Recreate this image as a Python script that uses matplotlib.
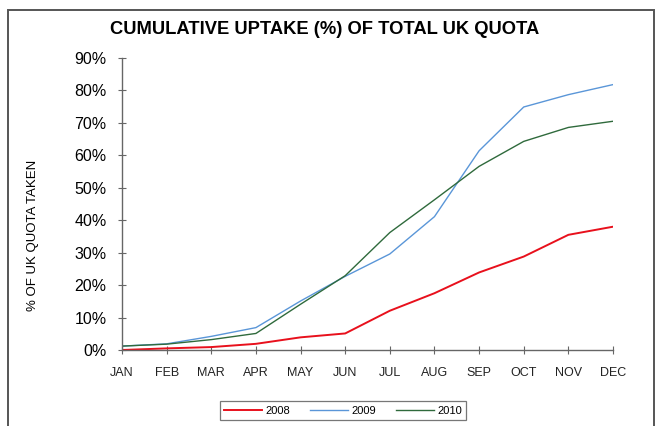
import matplotlib
matplotlib.use("Agg")
import matplotlib.pyplot as plt
from matplotlib.patches import Rectangle
from matplotlib.ticker import FuncFormatter

plt.rcParams['font.family'] = ['Liberation Sans', 'DejaVu Sans']

months = ["JAN", "FEB", "MAR", "APR", "MAY", "JUN", "JUL", "AUG", "SEP", "OCT", "NOV", "DEC"]
series_names = ["2008", "2009", "2010"]
uptake_2008 = [0.0, 0.5, 0.9, 1.9, 3.9, 5.1, 12.1, 17.5, 23.9, 28.8, 35.5, 38.0]
uptake_2009 = [1.2, 1.9, 4.2, 6.9, 15.1, 22.7, 29.6, 41.1, 61.4, 74.9, 78.7, 81.8]
uptake_2010 = [1.2, 1.8, 3.2, 5.1, 14.1, 22.9, 36.2, 46.3, 56.6, 64.3, 68.6, 70.5]
yticks = [0, 10, 20, 30, 40, 50, 60, 70, 80, 90]
colors = ["#e8101c", "#5a96d8", "#2f6a3c"]

fig = plt.figure(figsize=(6.58, 4.26), dpi=100)
fig.patch.set_facecolor("white")
ax = fig.add_axes([122/658, 1-350/426, (613-122)/658, (350-58)/426])

x = list(range(len(months)))
for vals, name, c in zip([uptake_2008, uptake_2009, uptake_2010], series_names, colors):
    ax.plot(x, vals, color=c, lw=1.4 if name == "2008" else 1.0, label=name)

ax.set_xlim(0, len(months) - 1)
ax.set_ylim(0, 90)
ax.set_xticks(x)
ax.set_xticklabels(months)
ax.set_yticks(yticks)
ax.yaxis.set_major_formatter(FuncFormatter(lambda v, p: f"{int(v)}%"))
for s in ["top", "right"]:
    ax.spines[s].set_visible(False)
for s in ["left", "bottom"]:
    ax.spines[s].set_color("#666666")
    ax.spines[s].set_linewidth(1.0)
ax.tick_params(axis="both", direction="inout", length=6, width=0.8, color="#666666")
ax.tick_params(axis="y", labelsize=11.5, pad=8)
ax.tick_params(axis="x", labelsize=9, pad=9)
for t in ax.get_xticklabels():
    t.set_color("#222222")

fig.text(33/658, 1-235/426, "% OF UK QUOTA TAKEN", rotation=90, ha="center", va="center", fontsize=9.5)
fig.text(325/658, 1-30/426, "CUMULATIVE UPTAKE (%) OF TOTAL UK QUOTA", ha="center", va="center",
         fontsize=13.2, fontweight="bold")

leg = fig.legend(loc="center", bbox_to_anchor=(343/658, 1-410.5/426), ncol=3, fontsize=8,
                 frameon=True, fancybox=False, edgecolor="#555555", handlelength=3.4,
                 columnspacing=1.8, handletextpad=0.3, borderpad=0.4)
leg.get_frame().set_linewidth(0.9)

fig.add_artist(Rectangle((8/658, -0.01), (654-8)/658, 1.01-10/426, transform=fig.transFigure,
                         fill=False, edgecolor="#555555", lw=1.4))

fig.savefig("out.png", dpi=100)
